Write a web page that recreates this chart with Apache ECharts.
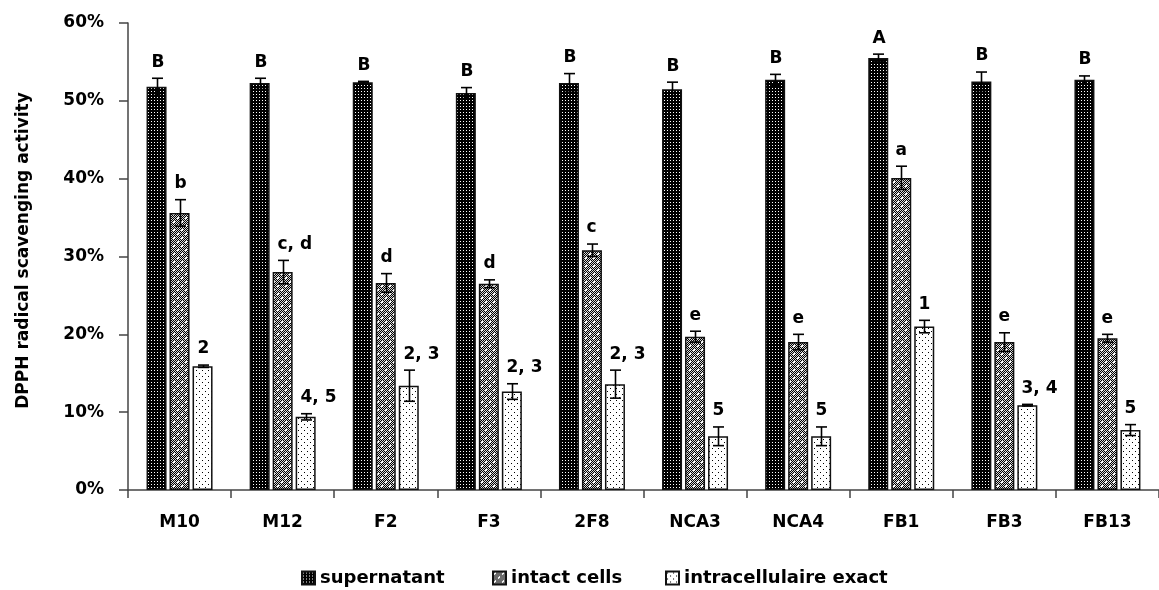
<!DOCTYPE html>
<html>
<head>
<meta charset="utf-8">
<script src="https://cdn.jsdelivr.net/npm/echarts@6/dist/echarts.min.js"></script>
<style>
  html, body { margin: 0; padding: 0; background: #fff; }
  #chart { width: 1159px; height: 590px; }
</style>
</head>
<body>
<div id="chart"></div>
<script>
// Strains on the x axis
const categories = ['M10', 'M12', 'F2', 'F3', '2F8', 'NCA3', 'NCA4', 'FB1', 'FB3', 'FB13'];

// DPPH radical scavenging activity (%), mean and standard deviation
const supernatant     = [51.8, 52.3, 52.4, 51.0, 52.3, 51.5, 52.7, 55.5, 52.5, 52.7];
const supernatantErr  = [1.1, 0.6, 0.1, 0.7, 1.2, 0.9, 0.7, 0.5, 1.2, 0.5];
const supernatantSig  = ['B', 'B', 'B', 'B', 'B', 'B', 'B', 'A', 'B', 'B'];

const intactCells     = [35.6, 28.0, 26.6, 26.5, 30.8, 19.7, 19.0, 40.1, 19.0, 19.5];
const intactCellsErr  = [1.7, 1.5, 1.2, 0.5, 0.8, 0.7, 1.0, 1.5, 1.2, 0.5];
const intactCellsSig  = ['b', 'c, d', 'd', 'd', 'c', 'e', 'e', 'a', 'e', 'e'];

const intracellular    = [15.9, 9.4, 13.4, 12.65, 13.6, 6.9, 6.9, 21.0, 10.9, 7.7];
const intracellularErr = [0.15, 0.4, 2.0, 1.0, 1.8, 1.2, 1.2, 0.8, 0.1, 0.7];
const intracellularSig = ['2', '4, 5', '2, 3', '2, 3', '2, 3', '5', '5', '1', '3, 4', '5'];

// Y axis ticks (percent)
const yTicks = { min: 0, max: 60, interval: 10 };

const seriesNames = ['supernatant', 'intact cells', 'intracellulaire exact'];

const FONT = '"DejaVu Sans", sans-serif';
const BAR_W = 20;
const BAR_GAP = 3;

// Fill patterns drawn on small canvases
function pattern(size, draw) {
  const c = document.createElement('canvas');
  c.width = size; c.height = size;
  const ctx = c.getContext('2d');
  draw(ctx, size);
  return { image: c, repeat: 'repeat' };
}
const patDark = pattern(3, (ctx) => {
  ctx.fillStyle = '#000'; ctx.fillRect(0, 0, 3, 3);
  ctx.fillStyle = '#fff'; ctx.fillRect(1, 1, 1, 1);
});
const patGrey = pattern(8, (ctx) => {
  for (let y = 0; y < 8; y++) for (let x = 0; x < 8; x++) {
    ctx.fillStyle = (x + y) % 2 ? '#000' : '#d8d8d8';
    ctx.fillRect(x, y, 1, 1);
  }
  ctx.fillStyle = '#fff';
  [[2, 2], [6, 6]].forEach(([cx, cy]) => {
    ctx.fillRect(cx, cy, 1, 1);
    ctx.fillRect(cx - 1, cy, 1, 1);
    ctx.fillRect(cx, cy - 1, 1, 1);
  });
});
const patLight = pattern(6, (ctx) => {
  ctx.fillStyle = '#fff'; ctx.fillRect(0, 0, 6, 6);
  ctx.fillStyle = '#000';
  ctx.fillRect(1, 1, 1, 1);
  ctx.fillRect(4, 4, 1, 1);
});
const fills = [patDark, patGrey, patLight];

const groups = [
  { vals: supernatant, errs: supernatantErr, sig: supernatantSig },
  { vals: intactCells, errs: intactCellsErr, sig: intactCellsSig },
  { vals: intracellular, errs: intracellularErr, sig: intracellularSig }
];

const chart = echarts.init(document.getElementById('chart'), null, { renderer: 'canvas' });

const barSeries = groups.map((g, k) => ({
  name: seriesNames[k],
  type: 'bar',
  barWidth: BAR_W,
  barGap: (BAR_GAP / BAR_W * 100) + '%',
  data: g.vals,
  itemStyle: { color: fills[k], borderColor: '#111', borderWidth: 1.5 },
  emphasis: { disabled: true },
  z: 2
}));

// Error bars and significance letters for each bar series
const errSeries = groups.map((g, k) => ({
  type: 'custom',
  silent: true,
  z: 5,
  data: g.vals.map((v, i) => [i, v, g.errs[i]]),
  renderItem: (params, api) => {
    const i = api.value(0), v = api.value(1), e = api.value(2);
    const dx = (k - 1) * (BAR_W + BAR_GAP);
    const c = api.coord([i, v]);
    const top = api.coord([i, v + e]);
    const bot = api.coord([i, v - e]);
    const x = Math.round(c[0] + dx) + 0.5;
    const cap = 5.5;
    const ls = { stroke: '#000', lineWidth: 1.6 };
    return {
      type: 'group',
      children: [
        { type: 'line', shape: { x1: x, y1: top[1], x2: x, y2: bot[1] }, style: ls },
        { type: 'line', shape: { x1: x - cap, y1: top[1], x2: x + cap, y2: top[1] }, style: ls },
        { type: 'line', shape: { x1: x - cap, y1: bot[1], x2: x + cap, y2: bot[1] }, style: ls },
        {
          type: 'text',
          x: x - 6,
          y: top[1] - 16,
          style: {
            text: g.sig[params.dataIndex],
            fill: '#000',
            font: 'bold 17px ' + FONT,
            align: 'left',
            verticalAlign: 'middle'
          }
        }
      ]
    };
  }
}));

// One legend block per series so each entry sits at its own place
const legendLeft = [296, 487, 660];
const legends = seriesNames.map((n, k) => ({
  data: [n],
  left: legendLeft[k],
  top: 564,
  icon: 'rect',
  itemWidth: 13,
  itemHeight: 13,
  selectedMode: false,
  textStyle: { fontFamily: FONT, fontWeight: 'bold', fontSize: 18, color: '#000' }
}));

chart.setOption({
  animation: false,
  backgroundColor: '#fff',
  grid: { left: 128, right: -6, top: 23, bottom: 100 },
  legend: legends,
  xAxis: {
    type: 'category',
    data: categories,
    axisLine: { lineStyle: { color: '#444', width: 1.5 } },
    axisTick: { show: true, length: 8, inside: false, lineStyle: { color: '#444', width: 1.5 } },
    axisLabel: { margin: 24, fontFamily: FONT, fontWeight: 'bold', fontSize: 17, color: '#000' }
  },
  yAxis: {
    type: 'value',
    min: yTicks.min,
    max: yTicks.max,
    interval: yTicks.interval,
    name: 'DPPH radical scavenging activity',
    nameLocation: 'middle',
    nameGap: 96,
    nameTextStyle: { fontFamily: FONT, fontWeight: 'bold', fontSize: 17, color: '#000', padding: [0, 0, 0, 12] },
    axisLine: { show: true, lineStyle: { color: '#444', width: 1.5 } },
    axisTick: { show: true, length: 9, inside: false, lineStyle: { color: '#444', width: 1.5 } },
    axisLabel: { margin: 24, fontFamily: FONT, fontWeight: 'bold', fontSize: 17, color: '#000', formatter: (v) => v + '%' },
    splitLine: { show: false }
  },
  series: [...barSeries, ...errSeries]
});
</script>
</body>
</html>
